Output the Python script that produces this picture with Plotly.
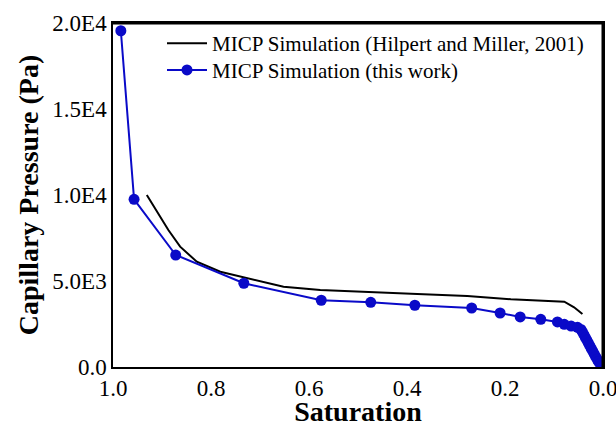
import plotly.graph_objects as go

# Data
sat_ref = [0.931, 0.887, 0.863, 0.829, 0.781, 0.740, 0.652, 0.577, 0.481, 0.413,
           0.379, 0.277, 0.188, 0.079, 0.059, 0.042]
pc_ref = [10000, 7965, 6995, 6122, 5541, 5250, 4669, 4477, 4343, 4285,
          4244, 4128, 3936, 3797, 3471, 3081]

sat_this = [0.984, 0.957, 0.872, 0.733, 0.575, 0.474, 0.384, 0.268, 0.210, 0.169,
            0.127, 0.093, 0.079, 0.065, 0.052, 0.045, 0.042, 0.039, 0.036, 0.033,
            0.030, 0.027, 0.024, 0.021, 0.018, 0.015, 0.012, 0.009, 0.006, 0.003, 0.001]
pc_this = [19550, 9750, 6510, 4870, 3880, 3760, 3590, 3430, 3140, 2910,
           2770, 2620, 2480, 2380, 2310, 2180, 2040, 1880, 1720, 1560,
           1400, 1240, 1080, 920, 760, 600, 450, 320, 190, 80, 10]

y_tickvals = [0, 5000, 10000, 15000, 20000]
y_ticktext = ["0.0", "5.0E3", "1.0E4", "1.5E4", "2.0E4"]
x_tickvals = [1.0, 0.8, 0.6, 0.4, 0.2, 0.0]
x_ticktext = ["1.0", "0.8", "0.6", "0.4", "0.2", "0.0"]
x_minor = [0.9, 0.7, 0.5, 0.3, 0.1]
y_minor = [2500, 7500, 12500, 17500]

X_RANGE = [1.0, 0.0]
Y_RANGE = [0, 20000]
PLOT_W, PLOT_H = 490, 344  # plot area in pixels
BLUE = "#0a0ac8"
FONT = "Liberation Serif"

fig = go.Figure()
fig.add_trace(go.Scatter(
    x=sat_ref, y=pc_ref, mode="lines",
    name="MICP Simulation (Hilpert and Miller, 2001)",
    line=dict(color="black", width=2),
    legend="legend",
))
fig.add_trace(go.Scatter(
    x=sat_this, y=pc_this, mode="lines+markers",
    name="MICP Simulation (this work)",
    line=dict(color=BLUE, width=2),
    marker=dict(color=BLUE, size=11),
    legend="legend2",
))

# ---- frame (top and right edges) and outside tick marks drawn as traces ----
ypx = (Y_RANGE[1] - Y_RANGE[0]) / PLOT_H      # data units per pixel (y)
xpx = (X_RANGE[0] - X_RANGE[1]) / PLOT_W      # data units per pixel (x)
fig.add_trace(go.Scatter(
    x=[X_RANGE[0], X_RANGE[1], X_RANGE[1]], y=[Y_RANGE[1], Y_RANGE[1], Y_RANGE[0]],
    mode="lines", line=dict(color="black", width=3),
    showlegend=False, hoverinfo="skip",
))

def tick_trace(xs, ys, symbol, size):
    return go.Scatter(x=xs, y=ys, mode="markers", cliponaxis=False,
                      marker=dict(symbol=symbol, size=size, color="black",
                                  line=dict(color="black", width=1.5)),
                      showlegend=False, hoverinfo="skip")

MAJ, MIN = 7, 4
fig.add_trace(tick_trace(x_tickvals, [Y_RANGE[0] - MAJ / 2 * ypx] * len(x_tickvals), "line-ns", MAJ))
fig.add_trace(tick_trace(x_minor, [Y_RANGE[0] - MIN / 2 * ypx] * len(x_minor), "line-ns", MIN))
fig.add_trace(tick_trace([X_RANGE[0] + MAJ / 2 * xpx] * len(y_tickvals), y_tickvals, "line-ew", MAJ))
fig.add_trace(tick_trace([X_RANGE[0] + MIN / 2 * xpx] * len(y_minor), y_minor, "line-ew", MIN))

leg_common = dict(xanchor="left", yanchor="top", bgcolor="rgba(0,0,0,0)",
                  font=dict(size=21, family=FONT), itemwidth=40)

fig.update_layout(
    width=616, height=427,
    margin=dict(l=113, r=13, t=23, b=60, autoexpand=False),
    paper_bgcolor="white", plot_bgcolor="white",
    font=dict(family=FONT, color="black"),
    showlegend=True,
    legend=dict(x=0.1, y=1.0, **leg_common),
    legend2=dict(x=0.1, y=0.922, **leg_common),
    xaxis=dict(
        range=X_RANGE, autorange=False, automargin=False,
        tickvals=x_tickvals, ticktext=x_ticktext,
        ticks="", ticklabeloverflow="allow",
        showline=True, linecolor="black", linewidth=1.5, mirror=True,
        showgrid=False, zeroline=False,
        tickfont=dict(size=23, family=FONT),
        title=dict(text="<b>Saturation</b>", font=dict(size=28, family=FONT), standoff=8),
    ),
    yaxis=dict(
        range=Y_RANGE, autorange=False, automargin=False,
        tickvals=y_tickvals, ticktext=y_ticktext,
        ticks="", ticklabeloverflow="allow",
        showline=True, linecolor="black", linewidth=1.5, mirror=True,
        showgrid=False, zeroline=False,
        tickfont=dict(size=23, family=FONT),
        title=dict(text="<b>Capillary Pressure (Pa)</b>", font=dict(size=28, family=FONT), standoff=6),
    ),
)

fig.write_html("out.html")
